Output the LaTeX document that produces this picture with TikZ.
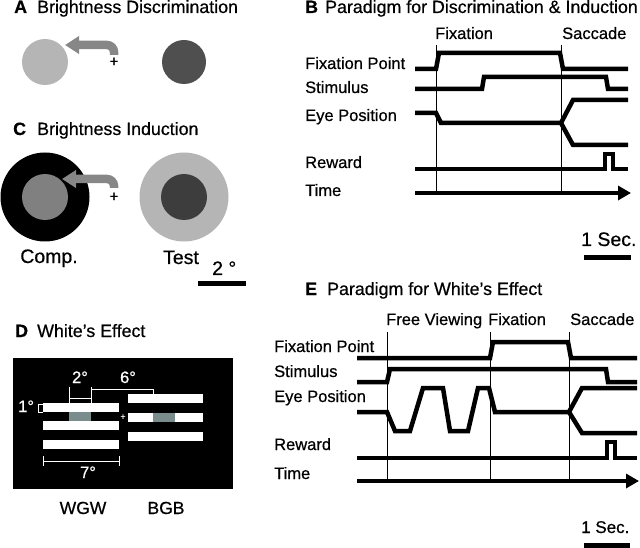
\documentclass[tikz,border=0pt]{standalone}
\usepackage{fontspec}
\setmainfont{Liberation Sans}[FakeBold=0.6]
\newfontfamily\heavy{Liberation Sans}[FakeBold=0.6]
\usetikzlibrary{arrows.meta}
\definecolor{lightdisk}{gray}{0.71}
\definecolor{middisk}{gray}{0.50}
\definecolor{darkdisk}{gray}{0.31}
\definecolor{deepdisk}{gray}{0.24}
\definecolor{arrowgray}{gray}{0.53}
\definecolor{patch}{RGB}{122,140,140}

\begin{document}
\begin{tikzpicture}[x=1pt, y=-1pt,
  ttl/.style={anchor=base west, inner sep=0pt, font=\heavy\fontsize{17.8}{20}\selectfont},
  lbl/.style={anchor=base west, inner sep=0pt, font=\heavy\fontsize{16.5}{20}\selectfont},
  ctrlbl/.style={anchor=base, inner sep=0pt, font=\heavy\fontsize{16.5}{20}\selectfont},
  biglbl/.style={font=\heavy\fontsize{19.5}{22}\selectfont},
  fix/.style={inner sep=0pt, font=\heavy\fontsize{15}{15}\selectfont},
  trace/.style={line width=4.5pt},
  marker/.style={line width=0.9pt},
  timeax/.style={line width=4.5pt, -{Triangle[length=13pt,width=14pt]}},
  scalebar/.style={line width=5pt},
  garrow/.style={draw=arrowgray, line width=8.5pt, rounded corners=7pt, -{Triangle[length=14pt,width=17pt]}},
  wline/.style={white, line width=0.8pt},
]
\useasboundingbox (0,0) rectangle (640,548);

% A
\node[ttl] (ttlA) at (14,13) {\makebox[23pt][l]{\textbf{A}}Brightness Discrimination};
\fill[lightdisk] (45,62) circle[radius=23];
\fill[darkdisk] (184,62) circle[radius=22];
\node[fix] (fixA) at (114,62) {+};
\draw[garrow] (114,55) |- (65,45);

% C
\node[ttl] (ttlC) at (13,135) {\makebox[24pt][l]{\textbf{C}}Brightness Induction};
\fill[black] (45,197) circle[radius=44.5];
\fill[middisk] (45,197) circle[radius=23];
\fill[lightdisk] (184,197) circle[radius=44.5];
\fill[deepdisk] (184,197) circle[radius=23];
\node[fix] (fixC) at (114,197) {+};
\draw[garrow] (114,188) |- (62,179);
\node[ctrlbl, biglbl] (comp) at (49,263) {Comp.};
\node[ctrlbl, biglbl] (test) at (181,264) {Test};
\node[lbl, biglbl] (degC) at (212,275) {2 °};
\draw[scalebar] (198,283) -- (246,283);

% D
\node[ttl] (ttlD) at (15,337) {\makebox[22pt][l]{\textbf{D}}White’s Effect};
\fill[black] (13,358) rectangle (233,489);
\foreach \y in {403,421,440}{
  \fill[white] (43,\y) rectangle (119,\y+9);
}
\fill[patch] (69,412) rectangle (91,421);
\foreach \y in {394,413,432}{
  \fill[white] (128,\y) rectangle (203,\y+8.5);
}
\fill[patch] (153,413) rectangle (175,421.5);
\node[fix, white, font=\fontsize{9}{9}\selectfont] (fixD) at (123,417) {+};
\node[lbl, white] (one) at (18,412) {1°};
\draw[wline] (43,404) -- (38,404) -- (38,412) -- (43,412);
\node[ctrlbl, white] (two) at (80,383) {2°};
\draw[wline] (69,387) -- (69,403) (91,387) -- (91,403) (69,398) -- (91,398);
\node[ctrlbl, white] (six) at (128,383) {6°};
\draw[wline] (91,389) -- (153,389) -- (153,394);
\node[ctrlbl, white] (seven) at (88,478) {7°};
\draw[wline] (43,456) -- (43,466) (119,456) -- (119,466) (43,461) -- (119,461);
\node[ctrlbl, font=\heavy\fontsize{17.5}{20}\selectfont] (wgw) at (83,514) {WGW};
\node[ctrlbl, font=\heavy\fontsize{17.5}{20}\selectfont] (bgb) at (166,514) {BGB};

% B
\node[ttl] (ttlB) at (305,13) {\makebox[20pt][l]{\textbf{B}}Paradigm for Discrimination \& Induction};
\node[lbl] (bfix) at (435,39) {Fixation};
\node[lbl] (bsac) at (562,39) {Saccade};
\foreach \t/\y/\n in {Fixation Point/69/fp, Stimulus/93/st, Eye Position/121/ey, Reward/168/rw, Time/196/tm}{
  \node[lbl] (b\n) at (305,\y) {\t};
}
\draw[marker] (436,45) -- (436,193) (561,45) -- (561,193);
\draw[trace] (415,69) -- (436,69) -- (439,53) -- (560,53) -- (563,69) -- (628,69);
\draw[trace] (415,89) -- (482,89) -- (484,77) -- (606,77) -- (608,89) -- (628,89);
\draw[trace] (415,113) -- (436,113) -- (441,123) -- (561,123) -- (573,100) -- (628,100);
\draw[trace] (561,123) -- (573,145) -- (628,145);
\draw[trace] (415,169) -- (605,169) -- (605,154) -- (613,154) -- (613,169) -- (628,169);
\draw[timeax] (415,193) -- (631,193);
\node[lbl, biglbl] (secB) at (581,246) {1 Sec.};
\draw[scalebar] (584,258) -- (631,258);

% E
\node[ttl] (ttlE) at (305,295) {\makebox[22pt][l]{\textbf{E}}Paradigm for White’s Effect};
\node[lbl] (efree) at (386,325) {Free Viewing};
\node[lbl] (efix) at (488,325) {Fixation};
\node[lbl] (esac) at (570,325) {Saccade};
\foreach \t/\y/\n in {Fixation Point/352/fp, Stimulus/377/st, Eye Position/402/ey, Reward/450/rw, Time/479/tm}{
  \node[lbl] (e\n) at (274,\y) {\t};
}
\draw[marker] (387,332) -- (387,481) (490,332) -- (490,481) (569,332) -- (569,481);
\draw[trace] (357,358) -- (490,358) -- (493,342) -- (568,342) -- (571,358) -- (637,358);
\draw[trace] (357,382) -- (387,382) -- (390,369) -- (606,369) -- (608,382) -- (637,382);
\draw[trace] (357,412) -- (387,412) -- (395,431) -- (410,431) -- (423,388) -- (443,388)
  -- (450,431) -- (468,431) -- (478,388) -- (489,388) -- (495,412) -- (569,412)
  -- (582,388) -- (637,388);
\draw[trace] (569,412) -- (582,433) -- (637,433);
\draw[trace] (357,458) -- (607,458) -- (607,442) -- (615,442) -- (615,458) -- (637,458);
\draw[timeax] (357,481) -- (639,481);
\node[lbl, font=\heavy\fontsize{17}{20}\selectfont] (secE) at (581,533) {1 Sec.};
\draw[scalebar] (584,545) -- (630,545);
\end{tikzpicture}
\end{document}
